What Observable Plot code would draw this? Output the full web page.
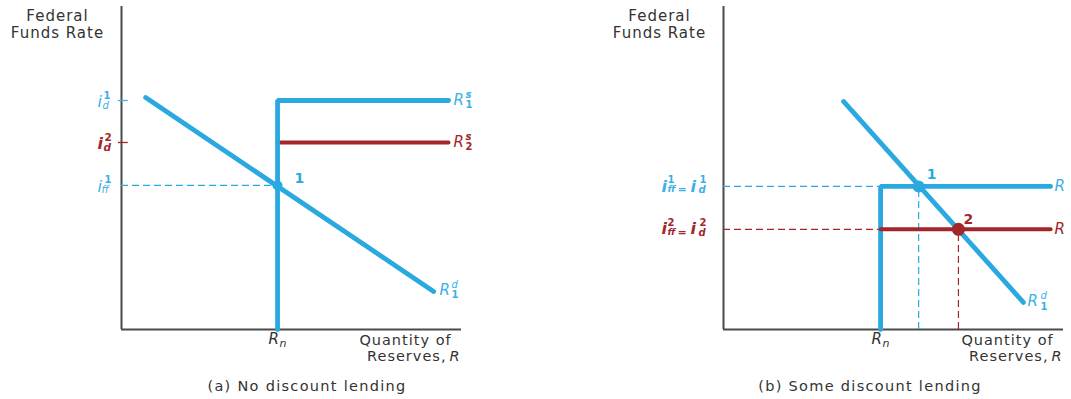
<!DOCTYPE html>
<html>
<head>
<meta charset="utf-8">
<script src="https://cdn.jsdelivr.net/npm/d3@7"></script>
<script src="https://cdn.jsdelivr.net/npm/@observablehq/plot@0.6"></script>
<style>
  html, body { margin: 0; padding: 0; background: #fff; }
  body { width: 1071px; height: 399px; overflow: hidden; position: relative; font-family: "DejaVu Sans", sans-serif; }
  .panel { position: absolute; top: 0; }
  .panel svg g[font-style="normal"][font-weight="normal"] text { letter-spacing: 1px; }
  .caption { position: absolute; top: 377px; width: 300px; text-align: center; font-size: 14.5px; letter-spacing: 1.3px; color: #333; line-height: 18px; }
</style>
</head>
<body>
<div id="pa" class="panel" style="left:0"></div>
<div id="pb" class="panel" style="left:535px"></div>
<div class="caption" style="left:157px">(a) No discount lending</div>
<div class="caption" style="left:720px">(b) Some discount lending</div>
<script>
// ---------- data (abstract units 0..10) ----------
const domainX = [0, 10];
const domainY = [0, 10];

// Panel (a): no discount lending
const demandA = [{x: 0.71, y: 7.18}, {x: 9.18, y: 1.18}];
const supply1A = [{x: 4.59, y: 0}, {x: 4.59, y: 7.09}, {x: 9.62, y: 7.09}];
const supply2A = [{x: 4.59, y: 5.79}, {x: 9.62, y: 5.79}];
const equilibriumA = [{x: 4.59, y: 4.46, label: "1"}];
const rateTicksA = [{y: 7.09, series: "i_d^1"}, {y: 5.79, series: "i_d^2"}];

// Panel (b): some discount lending
const demandB = [{x: 3.53, y: 7.06}, {x: 8.82, y: 0.84}];
const supply1B = [{x: 4.62, y: 0}, {x: 4.62, y: 4.43}, {x: 9.62, y: 4.43}];
const supply2B = [{x: 4.62, y: 3.10}, {x: 9.62, y: 3.10}];
const equilibriumB1 = [{x: 5.74, y: 4.43, label: "1"}];
const equilibriumB2 = [{x: 6.91, y: 3.10, label: "2"}];

const yTitle = "Federal\nFunds Rate";
const xTitle1 = "Quantity of";
const xTitle2 = "Reserves,";

// ---------- styles ----------
const BLUE = "#2aa9e0";
const LBLUE = "#3cb1e4";
const RED = "#a3262a";
const AXIS = "#4a4a4a";
const TEXT = "#333";

function rich(anchor, parts, fill) {
  return parts.map(p => Plot.text([anchor], {
    x: "x", y: "y", text: () => p.t,
    dx: p.dx, dy: p.dy,
    fontSize: p.s ?? 15,
    fontStyle: p.i ? "italic" : "normal",
    fontWeight: p.b ? "bold" : "normal",
    fill,
    textAnchor: p.a ?? "start",
    lineAnchor: "middle"
  }));
}

function axes() {
  return [
    Plot.ruleX([domainX[0]], {y1: () => domainY[0], y2: () => domainY[1], stroke: AXIS, strokeWidth: 2}),
    Plot.ruleY([domainY[0]], {x1: () => domainX[0], x2: () => domainX[1], stroke: AXIS, strokeWidth: 2})
  ];
}

function titles() {
  const origin = {x: domainX[0], y: domainY[1]};
  const end = {x: domainX[1], y: domainY[0]};
  return [
    Plot.text([origin], {x: "x", y: "y", text: () => yTitle, dx: -64, dy: 18, fontSize: 15, fontStyle: "normal", fontWeight: "normal", lineHeight: 1.13, fill: TEXT, textAnchor: "middle"}),
    Plot.text([end], {x: "x", y: "y", text: () => xTitle1, dx: -56, dy: 11, fontSize: 14.5, fontStyle: "normal", fontWeight: "normal", fill: TEXT, textAnchor: "middle"}),
    Plot.text([end], {x: "x", y: "y", text: () => xTitle2, dx: -15, dy: 27, fontSize: 14.5, fontStyle: "normal", fontWeight: "normal", fill: TEXT, textAnchor: "end"}),
    Plot.text([end], {x: "x", y: "y", text: () => "R", dx: -12, dy: 27, fontSize: 14.5, fontStyle: "italic", fill: TEXT, textAnchor: "start"})
  ];
}

function rnLabel(x) {
  return rich({x, y: 0}, [
    {t: "R", dx: -9, dy: 10, s: 15, i: true},
    {t: "n", dx: 2, dy: 14, s: 11, i: true}
  ], TEXT);
}

// ---------- panel (a) ----------
const pa = Plot.plot({
  width: 535, height: 365,
  marginLeft: 121, marginRight: 74, marginTop: 6, marginBottom: 36,
  x: {domain: domainX, axis: null},
  y: {domain: domainY, axis: null},
  style: {fontFamily: "DejaVu Sans", background: "transparent", overflow: "visible"},
  marks: [
    ...axes(),
    Plot.ruleY(rateTicksA.slice(0, 1), {y: "y", x1: () => -0.09, x2: () => 0.2, stroke: LBLUE, strokeWidth: 1.3}),
    Plot.ruleY(rateTicksA.slice(1), {y: "y", x1: () => -0.09, x2: () => 0.2, stroke: RED, strokeWidth: 1.3}),
    Plot.ruleY(equilibriumA, {y: "y", x1: () => 0, x2: "x", stroke: BLUE, strokeWidth: 1.2, strokeDasharray: "7,4"}),
    Plot.line(supply2A, {x: "x", y: "y", stroke: RED, strokeWidth: 3.8}),
    Plot.line(supply1A, {x: "x", y: "y", stroke: BLUE, strokeWidth: 4.8, strokeLinejoin: "miter"}),
    Plot.line(demandA, {x: "x", y: "y", stroke: BLUE, strokeWidth: 4.8}),
    Plot.dot(equilibriumA, {x: "x", y: "y", r: 5, fill: BLUE}),
    Plot.text(equilibriumA, {x: "x", y: "y", text: "label", dx: 17, dy: -7, fontSize: 14, fontWeight: "bold", fill: BLUE, textAnchor: "start"}),
    ...rich(supply1A[2], [{t: "R", dx: 5, dy: 0, i: true}, {t: "s", dx: 17, dy: -6, s: 10, i: true, b: true}, {t: "1", dx: 17, dy: 4, s: 10, b: true}], LBLUE),
    ...rich(supply2A[1], [{t: "R", dx: 5, dy: 0, i: true}, {t: "s", dx: 17, dy: -6, s: 10, i: true, b: true}, {t: "2", dx: 17, dy: 4, s: 10, b: true}], RED),
    ...rich(demandA[1], [{t: "R", dx: 6, dy: -1, i: true}, {t: "d", dx: 18, dy: -7, s: 10, i: true}, {t: "1", dx: 18, dy: 3, s: 10, b: true}], LBLUE),
    ...rich({x: 0, y: rateTicksA[0].y}, [{t: "i", dx: -24, dy: 1, s: 16, i: true}, {t: "1", dx: -18, dy: -5, s: 10, b: true}, {t: "d", dx: -19, dy: 5, s: 10, i: true}], LBLUE),
    ...rich({x: 0, y: rateTicksA[1].y}, [{t: "i", dx: -24, dy: 1, s: 16, i: true, b: true}, {t: "2", dx: -17, dy: -5, s: 10.5, b: true}, {t: "d", dx: -18, dy: 5, s: 10.5, i: true, b: true}], RED),
    ...rich({x: 0, y: equilibriumA[0].y}, [{t: "i", dx: -24, dy: 1, s: 16, i: true}, {t: "1", dx: -17, dy: -6, s: 10, b: true}, {t: "ff", dx: -20, dy: 4, s: 10, i: true}], LBLUE),
    ...rnLabel(equilibriumA[0].x),
    ...titles()
  ]
});
document.getElementById("pa").append(pa);

// ---------- panel (b) ----------
const pb = Plot.plot({
  width: 536, height: 365,
  marginLeft: 188, marginRight: 8, marginTop: 6, marginBottom: 36,
  x: {domain: domainX, axis: null},
  y: {domain: domainY, axis: null},
  style: {fontFamily: "DejaVu Sans", background: "transparent", overflow: "visible"},
  marks: [
    ...axes(),
    Plot.ruleY(equilibriumB1, {y: "y", x1: () => 0, x2: () => supply1B[0].x, stroke: BLUE, strokeWidth: 1.2, strokeDasharray: "7,4"}),
    Plot.ruleX(equilibriumB1, {x: "x", y1: () => 0, y2: "y", stroke: BLUE, strokeWidth: 1.2, strokeDasharray: "7,4"}),
    Plot.ruleY(equilibriumB2, {y: "y", x1: () => 0, x2: () => supply2B[0].x, stroke: RED, strokeWidth: 1.2, strokeDasharray: "7,4"}),
    Plot.ruleX(equilibriumB2, {x: "x", y1: () => 0, y2: "y", stroke: RED, strokeWidth: 1.2, strokeDasharray: "7,4"}),
    Plot.line(supply1B, {x: "x", y: "y", stroke: BLUE, strokeWidth: 4.8, strokeLinejoin: "miter"}),
    Plot.line(supply2B, {x: "x", y: "y", stroke: RED, strokeWidth: 4}),
    Plot.line(demandB, {x: "x", y: "y", stroke: BLUE, strokeWidth: 4.8}),
    Plot.dot(equilibriumB1, {x: "x", y: "y", r: 6, fill: BLUE}),
    Plot.dot(equilibriumB2, {x: "x", y: "y", r: 6.5, fill: RED}),
    Plot.text(equilibriumB1, {x: "x", y: "y", text: "label", dx: 8, dy: -12, fontSize: 14, fontWeight: "bold", fill: BLUE, textAnchor: "start"}),
    Plot.text(equilibriumB2, {x: "x", y: "y", text: "label", dx: 5, dy: -10, fontSize: 14, fontWeight: "bold", fill: RED, textAnchor: "start"}),
    // supply labels: only the "R" fits before the right edge, as in the reference
    ...rich(supply1B[2], [{t: "R", dx: 4, dy: 0, i: true}], LBLUE),
    ...rich(supply2B[1], [{t: "R", dx: 4, dy: 0, i: true}], RED),
    ...rich(demandB[1], [{t: "R", dx: 4, dy: -1, i: true}, {t: "d", dx: 17, dy: -7, s: 10, i: true}, {t: "1", dx: 17, dy: 4, s: 10, b: true}], LBLUE),
    ...rich({x: 0, y: equilibriumB1[0].y}, [
      {t: "i", dx: -62, dy: 0, s: 16, i: true, b: true},
      {t: "1", dx: -56, dy: -7, s: 10, b: true},
      {t: "ff", dx: -56, dy: 3, s: 9.5, i: true, b: true},
      {t: "=", dx: -46, dy: 3, s: 11, b: true},
      {t: "i", dx: -33, dy: 0, s: 16, i: true, b: true},
      {t: "1", dx: -24, dy: -7, s: 10, b: true},
      {t: "d", dx: -25, dy: 3, s: 10, i: true, b: true}
    ], LBLUE),
    ...rich({x: 0, y: equilibriumB2[0].y}, [
      {t: "i", dx: -62, dy: 0, s: 16, i: true, b: true},
      {t: "2", dx: -56, dy: -7, s: 10, b: true},
      {t: "ff", dx: -56, dy: 3, s: 9.5, i: true, b: true},
      {t: "=", dx: -46, dy: 3, s: 11, b: true},
      {t: "i", dx: -33, dy: 0, s: 16, i: true, b: true},
      {t: "2", dx: -24, dy: -7, s: 10, b: true},
      {t: "d", dx: -25, dy: 3, s: 10, i: true, b: true}
    ], RED),
    ...rnLabel(supply1B[0].x),
    ...titles()
  ]
});
document.getElementById("pb").append(pb);
</script>
</body>
</html>
